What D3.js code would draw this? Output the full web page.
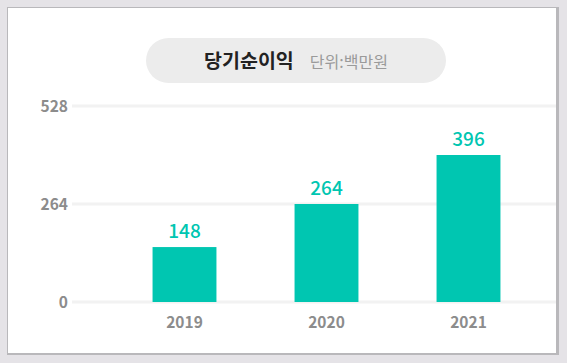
<!DOCTYPE html>
<html>
<head>
<meta charset="utf-8">
<script src="https://cdn.jsdelivr.net/npm/d3@7"></script>
<style>
  body { margin: 0; background: #e5e3e7; }
  svg { display: block; }
</style>
</head>
<body>
<svg id="chart" width="567" height="363"></svg>
<script>
years = ["2019", "2020", "2021"];
profit = [148, 264, 396];
yTicks = [0, 264, 528];
title = "당기순이익";
unit = "단위:백만원";

svg = d3.select("#chart");
font = "'Noto Sans CJK KR', 'Noto Sans', sans-serif";

// panel
svg.append("rect").attr("x", 0).attr("y", 0).attr("width", 567).attr("height", 363).attr("fill", "#e5e3e7");
svg.append("rect").attr("x", 7).attr("y", 7).attr("width", 552).attr("height", 348)
    .attr("fill", "#b9b8bb");
svg.append("rect").attr("x", 8).attr("y", 8).attr("width", 548).attr("height", 345)
    .attr("fill", "#ffffff");

// title pill
svg.append("rect").attr("x", 146).attr("y", 38).attr("width", 300).attr("height", 45)
    .attr("rx", 22.5).attr("fill", "#ececec");
titleText = svg.append("text")
    .attr("x", 296).attr("y", 68)
    .attr("text-anchor", "middle")
    .style("font-family", font);
titleText.append("tspan").text(title)
    .attr("font-size", 19.5).attr("font-weight", 700).attr("fill", "#222");
titleText.append("tspan").text(unit)
    .attr("dx", 16)
    .attr("font-size", 16).attr("font-weight", 400).attr("fill", "#9a9a9a");

// scales
x = d3.scaleBand().domain(years).range([113.5, 539.5]).paddingInner(0.55).paddingOuter(0.275);
y = d3.scaleLinear().domain([0, 528]).range([302, 106]);

// grid
svg.append("g").selectAll("line")
    .data(yTicks)
    .join("line")
    .attr("x1", 72).attr("x2", 556)
    .attr("y1", d => y(d)).attr("y2", d => y(d))
    .attr("stroke", "#f2f2f2").attr("stroke-width", 3);

// y labels
svg.append("g").selectAll("text")
    .data(yTicks)
    .join("text")
    .text(d => d)
    .attr("x", 68).attr("y", d => y(d) + 5.5)
    .attr("text-anchor", "end")
    .attr("font-size", 15.5).attr("font-weight", 700)
    .attr("fill", "#8c8c8c")
    .style("font-family", font);

// bars
svg.append("g").selectAll("rect")
    .data(profit)
    .join("rect")
    .attr("x", (d, i) => x(years[i]))
    .attr("width", x.bandwidth())
    .attr("y", d => y(d))
    .attr("height", d => y(0) - y(d))
    .attr("fill", "#00c6b1");

// value labels
svg.append("g").selectAll("text")
    .data(profit)
    .join("text")
    .text(d => d)
    .attr("x", (d, i) => x(years[i]) + x.bandwidth() / 2)
    .attr("y", d => y(d) - 9)
    .attr("text-anchor", "middle")
    .attr("font-size", 19).attr("font-weight", 500)
    .attr("fill", "#00c6b1")
    .style("font-family", font);

// x labels
svg.append("g").selectAll("text")
    .data(years)
    .join("text")
    .text(d => d)
    .attr("x", d => x(d) + x.bandwidth() / 2)
    .attr("y", 328)
    .attr("text-anchor", "middle")
    .attr("font-size", 15.5).attr("font-weight", 700)
    .attr("fill", "#8c8c8c")
    .style("font-family", font);
</script>
</body>
</html>
